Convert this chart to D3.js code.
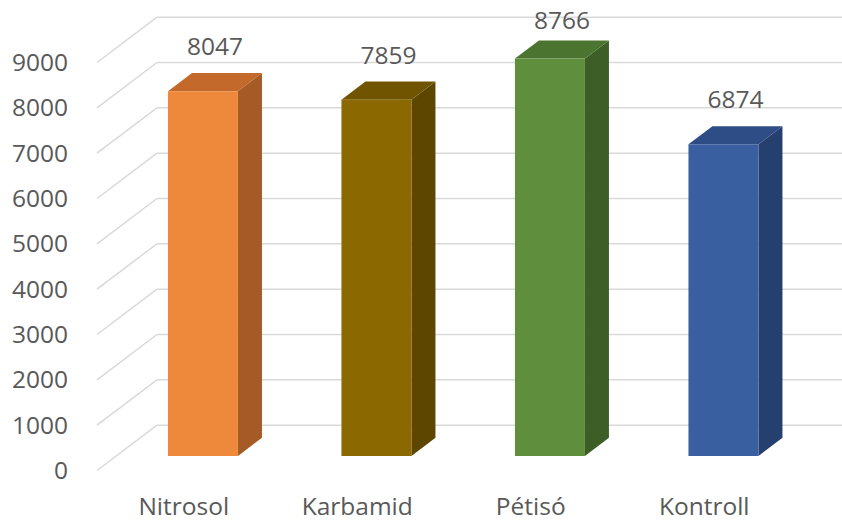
<!DOCTYPE html>
<html>
<head>
<meta charset="utf-8">
<script src="https://cdn.jsdelivr.net/npm/d3@7"></script>
<style>
  html, body { margin: 0; padding: 0; background: #ffffff; }
  svg { display: block; }
  text { font-family: "Open Sans", "Noto Sans", sans-serif; fill: #595959; }
</style>
</head>
<body>
<svg id="chart" width="842" height="522"></svg>
<script>
// ---- data ----
const categories = ["Nitrosol", "Karbamid", "Pétisó", "Kontroll"];
const values = [8047, 7859, 8766, 6874];
const yTicks = [0, 1000, 2000, 3000, 4000, 5000, 6000, 7000, 8000, 9000];
const frontColors = ["#EE893B", "#8C6900", "#5F8E3D", "#3A5FA0"];
const topColors   = ["#C2692B", "#705400", "#4C7431", "#2E4C85"];
const sideColors  = ["#A65A25", "#5C4600", "#3E5E28", "#253F6E"];

// ---- layout ----
const W = 842, H = 522;
const svg = d3.select("#chart");

// front plane scales
const x = d3.scaleBand().domain(categories).range([97, 791]).paddingInner(0).paddingOuter(0);
const y = d3.scaleLinear().domain([0, 9000]).range([470.5, 62.5]);

// depth of the plot box (front plane -> back wall)
const DX = 60;
const DY = y(0) - y(1000);
const t0 = 0.32, t1 = 0.72;   // bar depth range
const barW = 70;

const proj = (xf, v, t) => [xf + DX * t, y(v) - DY * t];

const grid = svg.append("g").attr("stroke", "#d9d9d9").attr("stroke-width", 1.5).attr("fill", "none");

// back wall horizontal gridlines
yTicks.forEach(v => {
  const a = proj(x.range()[0], v, 1);
  grid.append("line")
    .attr("x1", a[0]).attr("y1", a[1])
    .attr("x2", W + 20).attr("y2", a[1]);
});
// side wall diagonal gridlines
yTicks.forEach(v => {
  const a = proj(x.range()[0], v, 0);
  const b = proj(x.range()[0], v, 1);
  grid.append("line")
    .attr("x1", a[0]).attr("y1", a[1])
    .attr("x2", b[0]).attr("y2", b[1]);
});

// y tick labels
svg.append("g").selectAll("text").data(yTicks).join("text")
  .attr("x", 68)
  .attr("y", d => y(d))
  .attr("dy", "0.35em")
  .attr("text-anchor", "end")
  .style("font-size", "24.5px")
  .text(d => d);

// bars
const line = pts => "M" + pts.map(p => p.join(",")).join("L") + "Z";
const bars = svg.append("g");
categories.forEach((c, i) => {
  const v = values[i];
  const xl = x(c) + (x.bandwidth() - barW) / 2;
  const xr = xl + barW;
  const g = bars.append("g");
  g.append("path").attr("fill", sideColors[i])
    .attr("d", line([proj(xr, 0, t0), proj(xr, 0, t1), proj(xr, v, t1), proj(xr, v, t0)]));
  g.append("path").attr("fill", topColors[i])
    .attr("d", line([proj(xl, v, t0), proj(xr, v, t0), proj(xr, v, t1), proj(xl, v, t1)]));
  g.append("path").attr("fill", frontColors[i])
    .attr("d", line([proj(xl, 0, t0), proj(xr, 0, t0), proj(xr, v, t0), proj(xl, v, t0)]));
});

// value labels
svg.append("g").selectAll("text").data(categories).join("text")
  .attr("x", (c) => x(c) + x.bandwidth() / 2 + DX * (t0 + t1) / 2)
  .attr("y", (c, i) => Math.max(proj(0, values[i], t1)[1] - 18, 29))
  .attr("text-anchor", "middle")
  .style("font-size", "24.5px")
  .text((c, i) => values[i]);

// category labels
svg.append("g").selectAll("text").data(categories).join("text")
  .attr("x", c => x(c) + x.bandwidth() / 2)
  .attr("y", 515)
  .attr("text-anchor", "middle")
  .style("font-size", "24.5px")
  .text(c => c);
</script>
</body>
</html>
